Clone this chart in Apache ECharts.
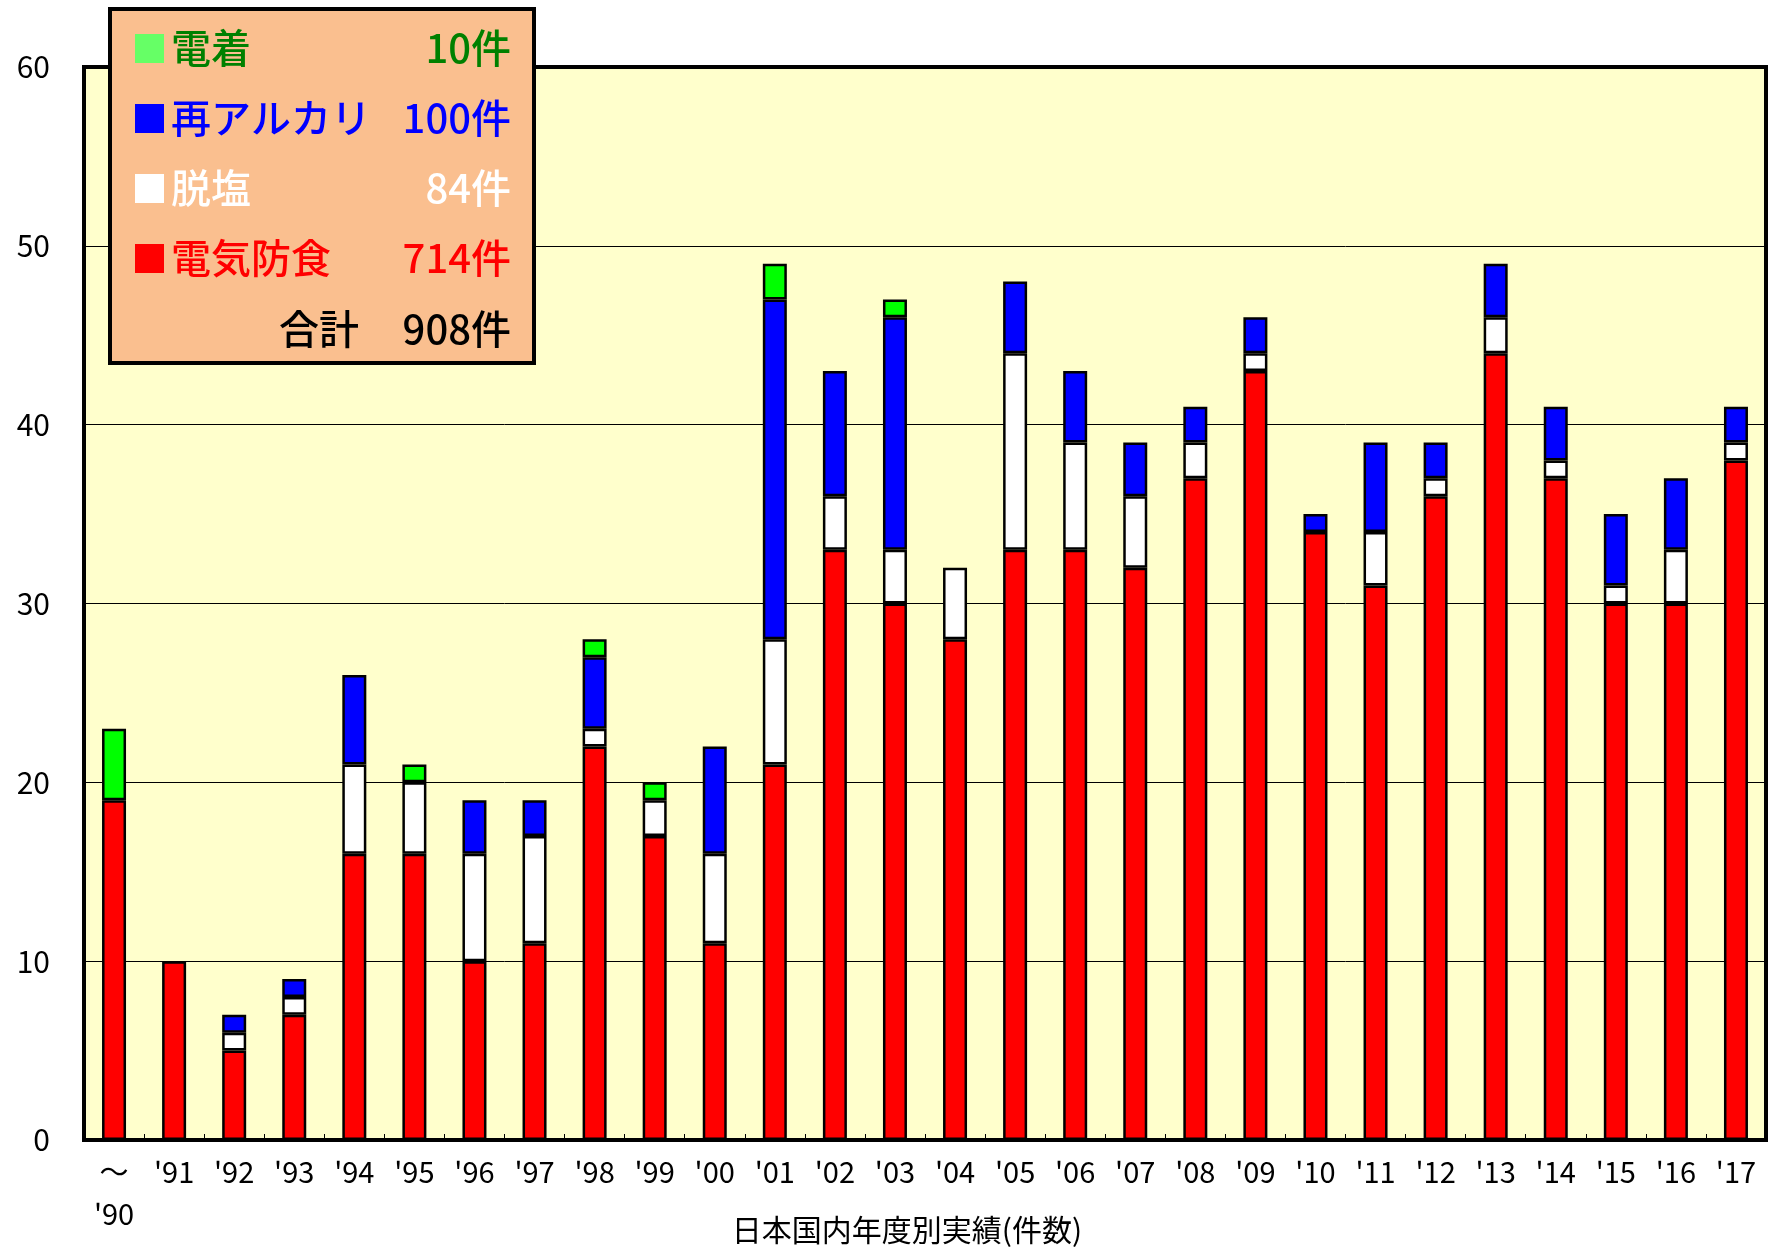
<!DOCTYPE html>
<html><head><meta charset="utf-8">
<script src="https://cdn.jsdelivr.net/npm/echarts@6/dist/echarts.min.js"></script>
<style>html,body{margin:0;padding:0;background:#fff}#c{width:1777px;height:1253px}</style>
</head><body><div id="c"></div>
<script>
const categories = ["～\n'90","'91","'92","'93","'94","'95","'96","'97","'98","'99","'00","'01","'02","'03","'04","'05","'06","'07","'08","'09","'10","'11","'12","'13","'14","'15","'16","'17"];
const cathodic  = [19,10,5,7,16,16,10,11,22,17,11,21,33,30,28,33,33,32,37,43,34,31,36,44,37,30,30,38];
const desalin   = [0,0,1,1,5,4,6,6,1,2,5,7,3,3,4,11,6,4,2,1,0,3,1,2,1,1,3,1];
const realkali  = [0,0,1,1,5,0,3,2,4,0,6,19,7,13,0,4,4,3,2,2,1,5,2,3,3,4,4,2];
const electrodep= [4,0,0,0,0,1,0,0,1,1,0,2,0,1,0,0,0,0,0,0,0,0,0,0,0,0,0,0];
const yTicks = [0,10,20,30,40,50,60];
const names = ["電気防食","脱塩","再アルカリ","電着"];

const sum = a => a.reduce((s,v)=>s+v,0);
const nz = a => a.map(v => v === 0 ? null : v);
const font = '"Noto Sans CJK JP", "Liberation Sans", sans-serif';
const narrow = '"Liberation Sans Narrow", "Noto Sans CJK JP", sans-serif';

const chart = echarts.init(document.getElementById('c'));
const barBase = {type:'bar', stack:'t', barWidth:24, itemStyle:{borderColor:'#000', borderWidth:2.5}};

const legendRows = [
  {name:names[3], sq:'#66FF66', col:'#008000', val:sum(electrodep)},
  {name:names[2], sq:'#0000FF', col:'#0000FF', val:sum(realkali)},
  {name:names[1], sq:'#FFFFFF', col:'#FFFFFF', val:sum(desalin)},
  {name:names[0], sq:'#FF0000', col:'#FF0000', val:sum(cathodic)}
];
const total = sum(cathodic)+sum(desalin)+sum(realkali)+sum(electrodep);
const g = [{type:'rect', left:108, top:7, shape:{width:424, height:354}, style:{fill:'#FABF8F', stroke:'#000', lineWidth:4}, z:10}];
const rowY = [48,118,188,258,329];
const lf = '500 40px ' + font;
legendRows.forEach((r,i)=>{
  g.push({type:'rect', shape:{x:135, y:rowY[i]-14, width:29, height:29}, style:{fill:r.sq}, z:11});
  g.push({type:'text', x:171, y:rowY[i], style:{text:r.name, fill:r.col, font:lf, textVerticalAlign:'middle'}, z:11});
  g.push({type:'text', x:511, y:rowY[i], style:{text:r.val+'件', fill:r.col, font:lf, textAlign:'right', textVerticalAlign:'middle'}, z:11});
});
g.push({type:'text', x:359, y:rowY[4], style:{text:'合計', fill:'#000', font:lf, textAlign:'right', textVerticalAlign:'middle'}, z:11});
g.push({type:'text', x:511, y:rowY[4], style:{text:total+'件', fill:'#000', font:lf, textAlign:'right', textVerticalAlign:'middle'}, z:11});

chart.setOption({
  animation:false,
  backgroundColor:'#fff',
  grid:{left:84, right:11, top:67, bottom:113, show:true, backgroundColor:'#FFFFCC', borderColor:'#000', borderWidth:4, containLabel:false, outerBoundsMode:'none'},
  xAxis:{type:'category', data:categories,
    axisLine:{show:true, lineStyle:{color:'#000', width:4}},
    axisTick:{show:true, inside:true, length:6, lineStyle:{color:'#000', width:1}},
    axisLabel:{color:'#000', fontSize:29, fontFamily:narrow, margin:11, lineHeight:42, interval:0},
    name:'日本国内年度別実績(件数)', nameLocation:'middle', nameGap:75, nameMoveOverlap:false,
    nameTextStyle:{color:'#000', fontSize:30, fontFamily:font, padding:[0,36,0,0]}},
  yAxis:{type:'value', min:yTicks[0], max:yTicks[yTicks.length-1], interval:10,
    axisLine:{show:false}, axisTick:{show:false},
    axisLabel:{color:'#000', fontSize:30, fontFamily:narrow, margin:34},
    splitLine:{show:true, lineStyle:{color:'#000', width:1}}},
  series:[
    Object.assign({}, barBase, {name:names[0], data:nz(cathodic), itemStyle:Object.assign({}, barBase.itemStyle, {color:'#FF0000'})}),
    Object.assign({}, barBase, {name:names[1], data:nz(desalin), itemStyle:Object.assign({}, barBase.itemStyle, {color:'#FFFFFF'})}),
    Object.assign({}, barBase, {name:names[2], data:nz(realkali), itemStyle:Object.assign({}, barBase.itemStyle, {color:'#0000FF'})}),
    Object.assign({}, barBase, {name:names[3], data:nz(electrodep), itemStyle:Object.assign({}, barBase.itemStyle, {color:'#00FF00'})})
  ],
  graphic:g
});
</script></body></html>
